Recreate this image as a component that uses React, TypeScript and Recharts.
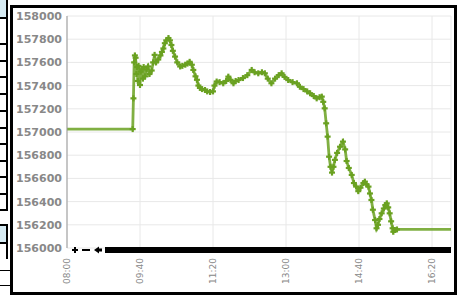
import React from "react";
import { LineChart, Line, XAxis, YAxis, CartesianGrid } from "recharts";

// minutes after 08:00
const minutes = [
  0, 90, 91, 92, 93, 94, 95, 96, 97, 98, 100, 101, 102, 104, 105, 107, 109, 111, 113, 116,
  118, 120, 122, 125, 128, 130, 132, 134, 136, 139, 141, 143, 145, 148, 151, 155, 158, 162,
  165, 168, 171, 173, 176, 178, 180, 182, 185, 189, 192, 196, 200, 202, 205, 209, 214, 218,
  221, 224, 228, 231, 235, 241, 247, 253, 257, 262, 267, 271, 275, 280, 285, 290, 294, 298,
  303, 309, 315, 319, 324, 329, 333, 338, 342, 346, 349, 351, 353, 355, 357, 359, 361, 363,
  365, 367, 370, 374, 378, 381, 383, 386, 390, 393, 396, 399, 402, 406, 408, 410, 413, 415,
  417, 419, 422, 424, 426, 428, 431, 434, 436, 438, 440, 442, 444, 446, 447, 449, 452, 526,
];

const prices = [
  157025, 157025, 157290, 157600, 157660, 157640, 157500, 157560, 157440, 157570, 157405,
  157520, 157540, 157460, 157560, 157480, 157540, 157565, 157500, 157530, 157600, 157665,
  157600, 157625, 157660, 157690, 157720, 157765, 157790, 157810, 157790, 157750, 157700,
  157650, 157600, 157565, 157570, 157580, 157590, 157605, 157580, 157535, 157480, 157450,
  157400, 157380, 157370, 157362, 157350, 157345, 157350, 157400, 157435, 157430, 157420,
  157440, 157477, 157450, 157420, 157440, 157448, 157465, 157490, 157535, 157515, 157506,
  157515, 157506, 157460, 157420, 157460, 157490, 157506, 157475, 157448, 157430, 157420,
  157390, 157370, 157350, 157334, 157310, 157290, 157300, 157305, 157260, 157204, 157075,
  156960, 156787, 156700, 156650, 156700, 156760, 156820, 156873, 156917, 156850, 156750,
  156690, 156630, 156560, 156530, 156490, 156520, 156560, 156572, 156550, 156529, 156470,
  156414, 156330, 156241, 156170, 156200, 156250, 156299, 156340, 156370, 156385, 156350,
  156299, 156230, 156170, 156140, 156155, 156160, 156160,
];

const xTicks = [0, 100, 200, 300, 400, 500];
const xLabels = ["08:00", "09:40", "11:20", "13:00", "14:40", "16:20"];
const yTicks = [
  156000, 156200, 156400, 156600, 156800, 157000, 157200, 157400, 157600, 157800, 158000,
];

const data = minutes.map((m, i) => ({ m, price: prices[i] }));

const GREEN = "#6aa121";
const LABEL = "#888";

function TimeTick(props: any) {
  const { x, y, payload } = props;
  const label = xLabels[xTicks.indexOf(payload.value)];
  return (
    <text
      transform={`translate(${x},${y}) rotate(-90)`}
      textAnchor="end"
      dy="0.35em"
      fontSize={9}
      fontFamily="DejaVu Sans"
      fill={LABEL}
    >
      {label}
    </text>
  );
}

function PlusDot(props: any) {
  const { cx, cy, index } = props;
  if (index === 0 || index === data.length - 1) return <g key={index} />;
  return (
    <g key={index} stroke={GREEN} strokeWidth={2.2}>
      <line x1={cx - 3} y1={cy} x2={cx + 3} y2={cy} />
      <line x1={cx} y1={cy - 3} x2={cx} y2={cy + 3} />
    </g>
  );
}

const sideLines = [17, 43, 60, 76, 93, 110, 127, 143, 160, 176, 193, 209];

export default function App() {
  return (
    <div
      style={{
        position: "absolute",
        left: 0,
        top: 0,
        width: 461,
        height: 295,
        background: "#fff",
        overflow: "hidden",
      }}
    >
      {/* left table fragment */}
      <div style={{ position: "absolute", left: 0, top: 0, width: 7, height: 17, background: "#d6ebf3" }} />
      {sideLines.map((y) => (
        <div key={y} style={{ position: "absolute", left: 0, top: y, width: 7, height: 2, background: "#000" }} />
      ))}
      <div style={{ position: "absolute", left: 6, top: 0, width: 2, height: 211, background: "#000" }} />
      <div style={{ position: "absolute", left: 0, top: 224, width: 7, height: 2, background: "#000" }} />
      <div style={{ position: "absolute", left: 0, top: 226, width: 6, height: 16, background: "#d6ebf3" }} />
      <div style={{ position: "absolute", left: 0, top: 242, width: 7, height: 2, background: "#000" }} />
      <div style={{ position: "absolute", left: 6, top: 224, width: 2, height: 35, background: "#000" }} />
      <div style={{ position: "absolute", left: 0, top: 270, width: 10, height: 1, background: "#000" }} />
      <div style={{ position: "absolute", left: 0, top: 285, width: 10, height: 1, background: "#000" }} />

      {/* frame */}
      <div
        style={{
          position: "absolute",
          left: 10,
          top: 5,
          width: 447,
          height: 290,
          boxSizing: "border-box",
          border: "3px solid #000",
        }}
      />

      <div style={{ position: "absolute", left: 0, top: 0 }}>
        <LineChart
          width={461}
          height={295}
          data={data}
          margin={{ top: 16, right: 10, left: 0, bottom: 10 }}
        >
          <CartesianGrid stroke="#e8e8e8" strokeWidth={1} />
          <XAxis
            dataKey="m"
            type="number"
            domain={[0, 526]}
            ticks={xTicks}
            interval={0}
            height={37}
            axisLine={false}
            tickLine={false}
            tickSize={0}
            tickMargin={10}
            tick={<TimeTick />}
          />
          <YAxis
            type="number"
            domain={[156000, 158000]}
            ticks={yTicks}
            interval={0}
            width={67}
            axisLine={{ stroke: "#999" }}
            tickLine={false}
            tickSize={0}
            tickMargin={5}
            tick={{ fontSize: 11, fontFamily: "DejaVu Sans", fontWeight: 600, fill: LABEL }}
          />
          <Line
            type="linear"
            dataKey="price"
            stroke={GREEN}
            strokeOpacity={0.85}
            strokeWidth={2.8}
            dot={<PlusDot />}
            activeDot={false}
            isAnimationActive={false}
          />
        </LineChart>
      </div>

      {/* broken navigator strip along the bottom */}
      <svg style={{ position: "absolute", left: 0, top: 0 }} width={461} height={295}>
        <g fill="#000">
          <rect x={72} y={249} width={6} height={2} />
          <rect x={74} y={247} width={2} height={6} />
          <rect x={82} y={249} width={8} height={2} />
          <polygon points="94,250 99,246.5 99,253.5" />
          <rect x={99} y={248.5} width={3} height={3} />
          <rect x={105} y={247} width={346} height={6} />
        </g>
      </svg>
    </div>
  );
}
